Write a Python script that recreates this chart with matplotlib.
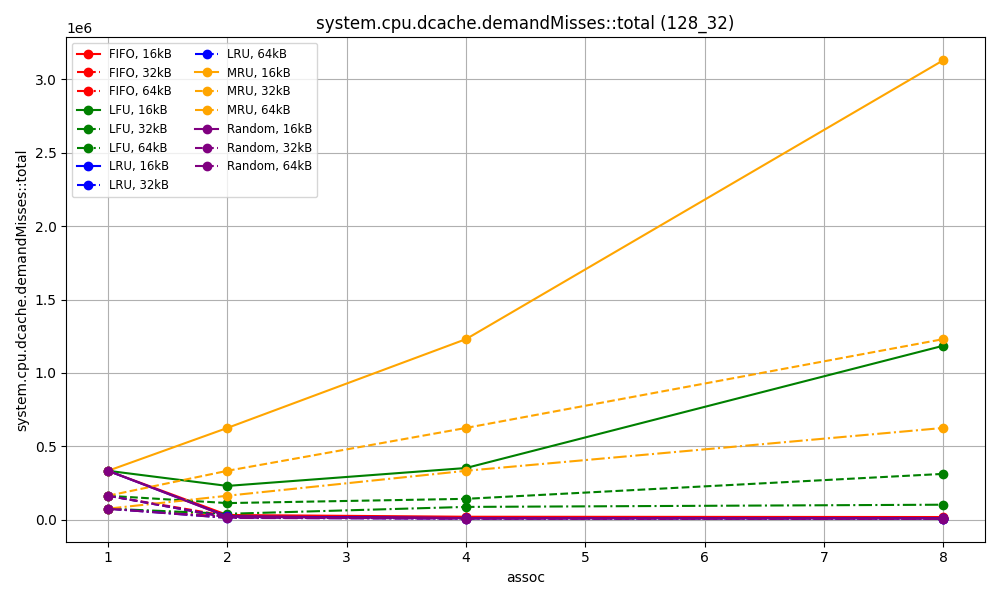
import numpy as np
import matplotlib
matplotlib.use("Agg")
import matplotlib.pyplot as plt

assoc = [1, 2, 4, 8]
policies = ["FIFO", "LFU", "LRU", "MRU", "Random"]
sizes = ["16kB", "32kB", "64kB"]

colors = {"FIFO": "red", "LFU": "green", "LRU": "blue", "MRU": "orange", "Random": "purple"}
styles = {"16kB": "-", "32kB": "--", "64kB": "-."}

# demand misses per (policy, size)
fifo_16 = [333000, 32000, 20000, 18000]
fifo_32 = [163000, 25000, 15000, 14000]
fifo_64 = [75000, 20000, 12000, 11000]
lfu_16 = [333000, 230000, 352000, 1185000]
lfu_32 = [163000, 113000, 142000, 312000]
lfu_64 = [75000, 40000, 87000, 102000]
lru_16 = [333000, 22000, 11000, 10000]
lru_32 = [163000, 16000, 9000, 8000]
lru_64 = [75000, 13000, 8000, 7000]
mru_16 = [333000, 625000, 1230000, 3130000]
mru_32 = [163000, 333000, 625000, 1230000]
mru_64 = [75000, 163000, 333000, 625000]
random_16 = [333000, 20000, 10000, 9000]
random_32 = [163000, 15000, 8000, 7000]
random_64 = [75000, 12000, 7000, 6000]

series = {
    ("FIFO", "16kB"): fifo_16, ("FIFO", "32kB"): fifo_32, ("FIFO", "64kB"): fifo_64,
    ("LFU", "16kB"): lfu_16, ("LFU", "32kB"): lfu_32, ("LFU", "64kB"): lfu_64,
    ("LRU", "16kB"): lru_16, ("LRU", "32kB"): lru_32, ("LRU", "64kB"): lru_64,
    ("MRU", "16kB"): mru_16, ("MRU", "32kB"): mru_32, ("MRU", "64kB"): mru_64,
    ("Random", "16kB"): random_16, ("Random", "32kB"): random_32, ("Random", "64kB"): random_64,
}

fig, ax = plt.subplots(figsize=(10, 6), dpi=100)
for pol in policies:
    for size in sizes:
        ax.plot(assoc, series[(pol, size)], marker="o", color=colors[pol],
                linestyle=styles[size], label=f"{pol}, {size}")

ax.set_title("system.cpu.dcache.demandMisses::total (128_32)")
ax.set_xlabel("assoc")
ax.set_ylabel("system.cpu.dcache.demandMisses::total")
ax.grid(True)
ax.legend(ncol=2, fontsize="small", loc="upper left")
fig.tight_layout()
fig.savefig("out.png")
